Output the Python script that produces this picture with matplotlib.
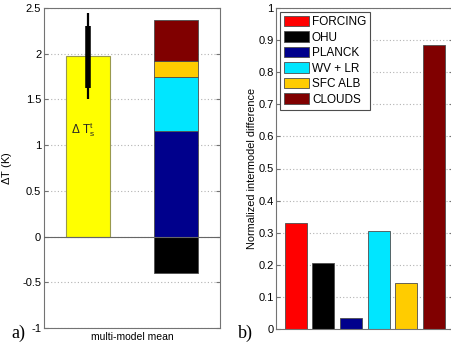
import matplotlib
matplotlib.use("Agg")
import matplotlib.pyplot as plt

plt.rcParams['font.family'] = ['Liberation Sans Narrow', 'Liberation Sans', 'DejaVu Sans']
plt.rcParams['mathtext.fontset'] = 'custom'
plt.rcParams['mathtext.rm'] = 'Liberation Sans'
plt.rcParams['mathtext.it'] = 'Liberation Sans'

# Panel a: multi-model mean warming and its decomposition
total_warming = 1.97
err_outer = (1.50, 2.44)
err_inner = (1.63, 2.30)
stack_names = ['OHU', 'PLANCK', 'WV + LR', 'SFC ALB', 'CLOUDS']
stack_values = [-0.40, 1.16, 0.59, 0.17, 0.45]

# Panel b: normalized intermodel difference per term
terms = ['FORCING', 'OHU', 'PLANCK', 'WV + LR', 'SFC ALB', 'CLOUDS']
spread = [0.331, 0.205, 0.035, 0.306, 0.144, 0.886]

colors = {
    'FORCING': (1.0, 0.0, 0.0),
    'OHU': (0.0, 0.0, 0.0),
    'PLANCK': (0.0, 0.0, 0.55),
    'WV + LR': (0.0, 0.9, 1.0),
    'SFC ALB': (1.0, 0.8, 0.0),
    'CLOUDS': (0.5, 0.0, 0.0),
}

fig = plt.figure(figsize=(4.52, 3.43), dpi=100)
W, H = 452, 343
ax1 = fig.add_axes([44 / W, 1 - 328 / H, 176 / W, 320 / H])
ax2 = fig.add_axes([276.5 / W, 1 - 329 / H, 176.5 / W, 321 / H])

spine_col = '0.45'
tick_fs = 8


def style(ax):
    for s in ax.spines.values():
        s.set_color(spine_col)
        s.set_linewidth(0.8)
    ax.tick_params(axis='y', direction='in', length=3, width=0.8, color=spine_col,
                   labelsize=tick_fs, left=True, right=True, pad=2)
    ax.yaxis.grid(True, linestyle=(0, (1, 2)), color='0.7', linewidth=0.8)
    ax.set_axisbelow(True)


# ---- panel a ----
style(ax1)
ax1.set_xlim(0.5, 2.5)
ax1.set_ylim(-1, 2.5)
ax1.set_yticks([-1, -0.5, 0, 0.5, 1, 1.5, 2, 2.5])
ax1.set_yticklabels(['-1', '-0.5', '0', '0.5', '1', '1.5', '2', '2.5'])
ax1.set_xticks([1.5])
ax1.set_xticklabels(['multi-model mean'], fontsize=7.5)
ax1.tick_params(axis='x', length=0, pad=3)

ax1.bar(1, total_warming, width=0.5, color=(1, 1, 0), edgecolor=(0.6, 0.6, 0.3),
        linewidth=0.8, zorder=2)
ax1.plot([1, 1], err_outer, color='black', lw=1.6, solid_capstyle='butt', zorder=3)
ax1.plot([1, 1], err_inner, color='black', lw=4, solid_capstyle='butt', zorder=3)
ax1.text(0.95, 1.17, r'$\Delta\ \mathrm{T}_\mathrm{s}^\mathrm{t}$', fontsize=8.5,
         ha='center', va='center', color='0.15', zorder=4)

pos_base = 0.0
for name, v in zip(stack_names, stack_values):
    if v < 0:
        ax1.bar(2, v, width=0.5, bottom=0, color=colors[name], edgecolor='0.3',
                linewidth=0.6, zorder=2)
    else:
        ax1.bar(2, v, width=0.5, bottom=pos_base, color=colors[name], edgecolor='0.3',
                linewidth=0.6, zorder=2)
        pos_base += v
ax1.axhline(0, color='0.4', lw=0.8, zorder=3)
ax1.set_ylabel(r'$\Delta$T (K)', fontsize=8, labelpad=6)

# ---- panel b ----
style(ax2)
ax2.set_xlim(0.3, 6.7)
ax2.set_ylim(0, 1)
ax2.set_yticks([0, 0.1, 0.2, 0.3, 0.4, 0.5, 0.6, 0.7, 0.8, 0.9, 1])
ax2.set_yticklabels(['0', '0.1', '0.2', '0.3', '0.4', '0.5', '0.6', '0.7', '0.8', '0.9', '1'])
ax2.set_xticks([])
xs = list(range(1, len(terms) + 1))
handles = ax2.bar(xs, spread, width=0.8, color=[colors[t] for t in terms],
                  edgecolor='0.3', linewidth=0.6, zorder=2)
ax2.set_ylabel('Normalized intermodel difference', fontsize=7.8, labelpad=1)
leg = ax2.legend(handles, terms, loc='upper left', fontsize=8.5, frameon=True,
                 fancybox=False, edgecolor='0.3', framealpha=1,
                 handlelength=2.1, handleheight=1.0, handletextpad=0.25,
                 labelspacing=0.27, borderpad=0.35, borderaxespad=0.3)
leg.get_frame().set_linewidth(0.8)

fig.text(11 / W, 1 - 333 / H, 'a)', family='Liberation Serif', fontsize=13, va='center')
fig.text(238 / W, 1 - 333 / H, 'b)', family='Liberation Serif', fontsize=13, va='center')

fig.savefig('out.png', dpi=100)
